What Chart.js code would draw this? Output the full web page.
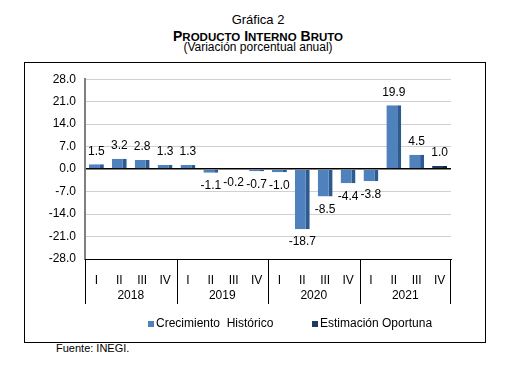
<!DOCTYPE html>
<html>
<head>
<meta charset="utf-8">
<script src="https://cdn.jsdelivr.net/npm/chart.js@4/dist/chart.umd.min.js"></script>
<style>
  body { margin: 0; background: #fff; font-family: "Liberation Sans", Arial, sans-serif; }
  #page { position: relative; width: 521px; height: 367px; overflow: hidden; }
  .t { position: absolute; left: 0; width: 516px; text-align: center; color: #000; white-space: nowrap; }
  .sc { font-size: 11.5px; }
  #frame { position: absolute; left: 24px; top: 62px; width: 460px; height: 279px; border: 1px solid #000; }
  #chart { position: absolute; left: 25px; top: 63px; }
  #fuente { position: absolute; left: 56px; top: 342px; font-size: 11px; }
</style>
</head>
<body>
<div id="page">
  <div class="t" style="top:12px;font-size:13px;line-height:16px;">Gráfica 2</div>
  <div class="t" style="top:28px;font-size:14px;line-height:16px;font-weight:bold;">P<span class="sc">RODUCTO</span> I<span class="sc">NTERNO</span> B<span class="sc">RUTO</span></div>
  <div class="t" style="top:40px;font-size:12px;line-height:14px;">(Variación porcentual anual)</div>
  <div id="frame"></div>
  <canvas id="chart" width="459" height="278"></canvas>
  <div id="fuente">Fuente: INEGI.</div>
</div>
<script>
const quarters = ['I', 'II', 'III', 'IV', 'I', 'II', 'III', 'IV', 'I', 'II', 'III', 'IV', 'I', 'II', 'III', 'IV'];
const years = ['2018', '2019', '2020', '2021'];
const historico = [1.5, 3.2, 2.8, 1.3, 1.3, -1.1, -0.2, -0.7, -1.0, -18.7, -8.5, -4.4, -3.8, 19.9, 4.5, null];
const oportuna = [null, null, null, null, null, null, null, null, null, null, null, null, null, null, null, 1.0];
const yTicks = [-28, -21, -14, -7, 0, 7, 14, 21, 28];

const font = "'Liberation Sans', Arial, sans-serif";

// valores sobre / bajo las barras, grupos de años y leyenda
const extras = {
    id: 'extras',
    afterDatasetsDraw(chart) {
        const ctx = chart.ctx;
        ctx.save();
        ctx.font = '12px ' + font;
        ctx.fillStyle = '#000';
        ctx.textAlign = 'center';
        ctx.textBaseline = 'middle';
        chart.data.datasets.forEach((ds, i) => {
            chart.getDatasetMeta(i).data.forEach((bar, j) => {
                const v = ds.data[j];
                if (v === null) return;
                const y = v >= 0 ? bar.y - 13 : bar.y + 13;
                ctx.fillText(v.toFixed(1), bar.x, y);
            });
        });
        ctx.restore();
    },
    afterDraw(chart) {
        const ctx = chart.ctx;
        const x = chart.scales.x;
        const w = x.width / quarters.length;
        const bottom = chart.chartArea.bottom;
        ctx.save();
        ctx.strokeStyle = '#000';
        ctx.lineWidth = 1;
        ctx.font = '12px ' + font;
        ctx.fillStyle = '#000';
        ctx.textAlign = 'center';
        ctx.textBaseline = 'middle';
        years.forEach((yr, g) => {
            const left = x.getPixelForValue(g * 4) - w / 2;
            const right = x.getPixelForValue(g * 4 + 3) + w / 2;
            ctx.beginPath();
            ctx.moveTo(Math.round(left) + 0.5, bottom);
            ctx.lineTo(Math.round(left) + 0.5, bottom + 45);
            if (g === years.length - 1) {
                ctx.moveTo(Math.round(right) - 0.5, bottom);
                ctx.lineTo(Math.round(right) - 0.5, bottom + 45);
            }
            ctx.stroke();
            ctx.fillText(yr, (left + right) / 2, bottom + 37);
        });

        // leyenda
        const items = [{ x: 123 }, { x: 287 }];
        ctx.textAlign = 'left';
        chart.data.datasets.forEach((ds, i) => {
            ctx.fillStyle = ds.backgroundColor;
            ctx.fillRect(items[i].x, 258, 6, 6);
            ctx.fillStyle = '#000';
            ctx.fillText(ds.label, items[i].x + 8, 261);
        });
        ctx.restore();
    }
};

new Chart(document.getElementById('chart'), {
    type: 'bar',
    data: {
        labels: quarters,
        datasets: [{
            label: 'Crecimiento  Histórico',
            data: historico,
            backgroundColor: '#4f81bd',
            borderColor: '#2c5a91',
            borderWidth: { left: 0, top: 0, bottom: 0, right: 4 },
            borderSkipped: false
        }, {
            label: 'Estimación Oportuna',
            data: oportuna,
            backgroundColor: '#1f3a60',
            borderColor: '#13243d',
            borderWidth: { left: 0, top: 0, bottom: 0, right: 4 },
            borderSkipped: false
        }]
    },
    options: {
        responsive: false,
        animation: false,
        barPercentage: 0.65,
        categoryPercentage: 1,
        layout: { padding: { top: 16, right: 33, bottom: 38, left: 0 } },
        plugins: { legend: { display: false }, tooltip: { enabled: false } },
        scales: {
            x: {
                stacked: true,
                grid: { display: false },
                border: { display: true, color: '#000', width: 1 },
                ticks: { color: '#000', font: { family: font, size: 12 }, padding: 6, maxRotation: 0, autoSkip: false },
                afterFit: s => { s.height = 44; }
            },
            y: {
                stacked: true,
                min: -28,
                max: 28,
                afterBuildTicks: s => { s.ticks = yTicks.map(v => ({ value: v })); },
                grid: {
                    drawTicks: false,
                    color: c => (c.tick && (c.tick.value === 0 || c.tick.value === -28)) ? '#000' : '#d0d0d0',
                    lineWidth: c => (c.tick && c.tick.value === 0) ? 1.5 : 1
                },
                border: { color: '#7f7f7f', width: 2 },
                ticks: {
                    color: '#000',
                    font: { family: font, size: 12 },
                    padding: 9,
                    callback: v => v.toFixed(1)
                },
                afterFit: s => { s.width = 60; }
            }
        }
    },
    plugins: [extras]
});
</script>
</body>
</html>
